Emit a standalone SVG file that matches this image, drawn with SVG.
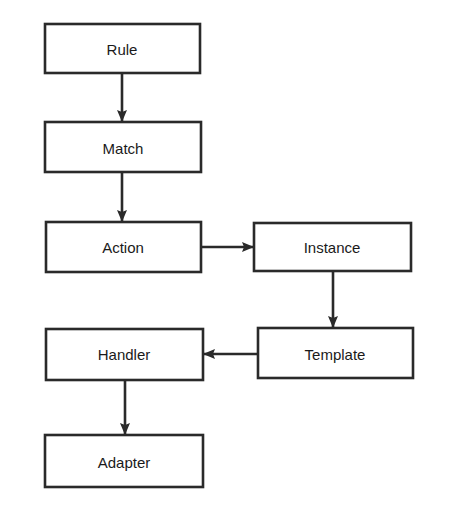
<svg xmlns="http://www.w3.org/2000/svg" width="454" height="512" viewBox="0 0 454 512">
<defs>
<marker id="ah" markerWidth="12" markerHeight="12" refX="11" refY="6" orient="auto" markerUnits="userSpaceOnUse">
<path d="M0,1 L12,6 L0,11 L2,6 Z" fill="#2a2a2a"/>
</marker>
<style>
.box{fill:#fff;stroke:#2a2a2a;stroke-width:2.6}
.lbl{font-family:"Liberation Sans",Arial,sans-serif;font-size:15px;fill:#1a1a1a;text-anchor:middle;dominant-baseline:central}
.con{stroke:#2a2a2a;stroke-width:2.6;fill:none;marker-end:url(#ah)}
</style>
</defs>
<rect width="454" height="512" fill="#fff"/>
<g id="connectors">
<line class="con" x1="122" y1="73" x2="122" y2="121"/>
<line class="con" x1="122" y1="172" x2="122" y2="221"/>
<line class="con" x1="201" y1="247" x2="253" y2="247"/>
<line class="con" x1="333" y1="271" x2="333" y2="327"/>
<line class="con" x1="258" y1="354" x2="204" y2="354"/>
<line class="con" x1="125" y1="380" x2="125" y2="434"/>
</g>
<g id="rule"><rect class="box" x="45" y="24" width="155" height="49"/><text class="lbl" x="122" y="49">Rule</text></g>
<g id="match"><rect class="box" x="45" y="122" width="156" height="50"/><text class="lbl" x="123" y="148">Match</text></g>
<g id="action"><rect class="box" x="46" y="222" width="155" height="50"/><text class="lbl" x="123" y="247">Action</text></g>
<g id="instance"><rect class="box" x="254" y="223" width="157" height="48"/><text class="lbl" x="332" y="247">Instance</text></g>
<g id="template"><rect class="box" x="258" y="328" width="155" height="50"/><text class="lbl" x="335" y="354">Template</text></g>
<g id="handler"><rect class="box" x="46" y="329" width="157" height="51"/><text class="lbl" x="124" y="354">Handler</text></g>
<g id="adapter"><rect class="box" x="45" y="435" width="158" height="52"/><text class="lbl" x="124" y="462">Adapter</text></g>
</svg>
